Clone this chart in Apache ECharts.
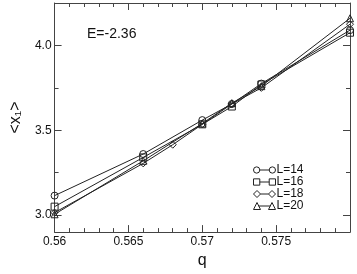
<!DOCTYPE html>
<html>
<head>
<meta charset="utf-8">
<script src="https://cdn.jsdelivr.net/npm/echarts@6/dist/echarts.min.js"></script>
<style>html,body{margin:0;padding:0;background:#fff}#c{width:357px;height:274px}</style>
</head>
<body>
<div id="c"></div>
<script>
// ---- data ----
const q14 = [0.56, 0.566, 0.57, 0.572, 0.574, 0.58];
const v14 = [3.115, 3.36, 3.56, 3.655, 3.775, 4.09];
const q16 = [0.56, 0.566, 0.57, 0.572, 0.574, 0.58];
const v16 = [3.05, 3.34, 3.535, 3.64, 3.77, 4.075];
const q18 = [0.56, 0.566, 0.568, 0.57, 0.572, 0.574, 0.58];
const v18 = [3.015, 3.305, 3.415, 3.535, 3.655, 3.75, 4.125];
const q20 = [0.56, 0.566, 0.57, 0.572, 0.574, 0.58];
const v20 = [3.005, 3.32, 3.54, 3.66, 3.76, 4.16];
const seriesNames = ['L=14', 'L=16', 'L=18', 'L=20'];
const yMajorTicks = [3.0, 3.5, 4.0];
const yMinorTicks = [3.25, 3.75];
const annotation = 'E=-2.36';

const pair = (xs, ys) => xs.map((x, i) => [x, ys[i]]);
const axisCol = '#444';
const font = 'Liberation Sans, Arial, Helvetica, sans-serif';

const icons = {
  circle: 'path://M0.5,3.5 A3,3 0 1,0 6.5,3.5 A3,3 0 1,0 0.5,3.5 Z M6.5,3.5 L15.5,3.5 M15.5,3.5 A3,3 0 1,0 21.5,3.5 A3,3 0 1,0 15.5,3.5 Z',
  rect: 'path://M0.5,0.5 L6.5,0.5 L6.5,6.5 L0.5,6.5 Z M6.5,3.5 L15.5,3.5 M15.5,0.5 L21.5,0.5 L21.5,6.5 L15.5,6.5 Z',
  diamond: 'path://M3.5,0 L7,3.5 L3.5,7 L0,3.5 Z M7,3.5 L15,3.5 M18.5,0 L22,3.5 L18.5,7 L15,3.5 Z',
  triangle: 'path://M3.5,0 L7,7 L0,7 Z M5.2,3.5 L16.8,3.5 M18.5,0 L22,7 L15,7 Z'
};
const symbols = ['circle', 'rect', 'diamond', 'triangle'];
const datas = [pair(q14, v14), pair(q16, v16), pair(q18, v18), pair(q20, v20)];

const chart = echarts.init(document.getElementById('c'), null, {renderer: 'canvas'});
const yBase = {type: 'value', min: 2.9, max: 4.25, splitLine: {show: false}, gridIndex: 0};
chart.setOption({
  animation: false,
  backgroundColor: '#fff',
  grid: {left: 38, right: 7, top: 3, bottom: 31, containLabel: false},
  xAxis: [
    {
      type: 'value', min: 0.56, max: 0.58, interval: 0.005, position: 'bottom',
      axisLine: {lineStyle: {color: axisCol, width: 1}},
      axisTick: {inside: true, length: 7, lineStyle: {color: axisCol}},
      minorTick: {show: true, splitNumber: 5, length: 4, lineStyle: {color: axisCol}},
      splitLine: {show: false},
      axisLabel: {
        color: '#111', fontSize: 12, fontFamily: font, margin: 4,
        formatter: v => Math.abs(v - 0.58) < 1e-9 ? '' : String(Number(v.toFixed(3)))
      },
      name: 'q', nameLocation: 'middle', nameGap: 7,
      nameTextStyle: {fontSize: 16, color: '#111', fontFamily: font, verticalAlign: 'top'}
    },
    {
      type: 'value', min: 0.56, max: 0.58, interval: 0.005, position: 'top',
      axisLine: {lineStyle: {color: axisCol, width: 1}},
      axisTick: {inside: true, length: 7, lineStyle: {color: axisCol}},
      minorTick: {show: true, splitNumber: 5, length: 4, lineStyle: {color: axisCol}},
      splitLine: {show: false}, axisLabel: {show: false}
    }
  ],
  yAxis: [
    Object.assign({}, yBase, {
      position: 'left',
      axisLine: {show: true, lineStyle: {color: axisCol, width: 1}},
      axisTick: {show: true, inside: true, length: 7, customValues: yMajorTicks, lineStyle: {color: axisCol}},
      axisLabel: {customValues: yMajorTicks, color: '#111', fontSize: 12, fontFamily: font, margin: 3,
        formatter: v => v.toFixed(1)},
      name: '<x\u2081>', nameLocation: 'middle', nameGap: 23, nameRotate: 90,
      nameTextStyle: {fontSize: 16, color: '#111', fontFamily: font}
    }),
    Object.assign({}, yBase, {
      position: 'left', offset: 0,
      axisLine: {show: false},
      axisTick: {show: true, inside: true, length: 4, customValues: yMinorTicks, lineStyle: {color: axisCol}},
      axisLabel: {show: false}
    }),
    Object.assign({}, yBase, {
      position: 'right',
      axisLine: {show: true, lineStyle: {color: axisCol, width: 1}},
      axisTick: {show: true, inside: true, length: 7, customValues: yMajorTicks, lineStyle: {color: axisCol}},
      axisLabel: {show: false}
    }),
    Object.assign({}, yBase, {
      position: 'right', offset: 0,
      axisLine: {show: false},
      axisTick: {show: true, inside: true, length: 4, customValues: yMinorTicks, lineStyle: {color: axisCol}},
      axisLabel: {show: false}
    })
  ],
  legend: {
    orient: 'vertical', left: 246, top: 159, itemGap: 0,
    itemWidth: 22, itemHeight: 7, symbolKeepAspect: true,
    itemStyle: {color: 'none', borderColor: '#222', borderWidth: 1},
    textStyle: {fontSize: 12, color: '#111', fontFamily: font, padding: [0, 0, 0, -4]},
    data: seriesNames.map((n, i) => ({name: n, icon: icons[symbols[i]]}))
  },
  graphic: [{
    type: 'text', left: 87, top: 27,
    style: {text: annotation, fontSize: 14, fill: '#111', fontFamily: font}
  }],
  series: seriesNames.map((n, i) => ({
    name: n, type: 'line', data: datas[i], xAxisIndex: 0, yAxisIndex: 0,
    symbol: symbols[i], symbolSize: 7, clip: false,
    lineStyle: {color: '#222', width: 1},
    itemStyle: {color: 'none', borderColor: '#222', borderWidth: 1},
    emphasis: {disabled: true}
  }))
});
</script>
</body>
</html>
